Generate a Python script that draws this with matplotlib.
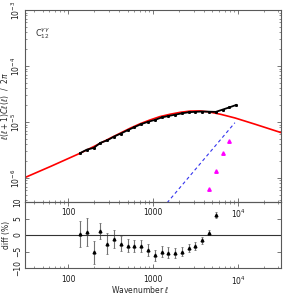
import numpy as np
import matplotlib
matplotlib.use('Agg')
import matplotlib.pyplot as plt
from matplotlib.ticker import FixedLocator, FixedFormatter

# model curve (red)
ell_model = [31.2, 63, 138, 200, 312, 536, 708, 923, 1202, 1585, 2089, 2723,
             3573, 4560, 6310, 9230, 15850, 33000]
cl_model = [1.02e-6, 1.62e-6, 2.76e-6, 3.63e-6, 5.12e-6, 7.72e-6, 9.33e-6,
            1.087e-5, 1.245e-5, 1.373e-5, 1.486e-5, 1.563e-5, 1.574e-5,
            1.514e-5, 1.365e-5, 1.178e-5, 9.12e-6, 6.37e-6]

# measured bins (black)
ell_bins = [138, 166, 200, 240, 289, 348, 417, 501, 603, 724, 871, 1047,
            1259, 1514, 1820, 2188, 2624, 3155, 3793, 4560, 5470, 6580, 7900, 9500]
cl_bins = [2.77e-6, 3.20e-6, 3.44e-6, 4.24e-6, 4.70e-6, 5.49e-6, 6.21e-6,
           7.11e-6, 8.08e-6, 9.16e-6, 1.005e-5, 1.087e-5, 1.202e-5, 1.278e-5,
           1.350e-5, 1.425e-5, 1.492e-5, 1.517e-5, 1.535e-5, 1.525e-5,
           1.513e-5, 1.66e-5, 1.82e-5, 2.01e-5]

# noise (blue dashed) and magenta points
ell_noise = [1460, 9200]
cl_noise = [3.58e-7, 9.7e-6]
ell_tri = [4560, 5470, 6580, 7900]
cl_tri = [6.4e-7, 1.33e-6, 2.76e-6, 4.6e-6]

# diff panel
diff = [0.3, 1.0, -5.2, 1.2, -2.6, -1.2, -2.6, -3.2, -3.4, -3.2, -4.5, -6.2,
        -5.0, -5.3, -5.5, -5.0, -3.9, -3.4, -1.6, 0.7, 6.1]
diff_err = [3.9, 4.3, 3.5, 2.5, 3.3, 2.6, 2.3, 2.0, 1.8, 1.8, 1.9, 1.8,
            1.7, 1.6, 1.5, 1.3, 1.2, 1.2, 1.0, 0.8, 1.0]

xticks = [100, 1000, 10000]
xticklabels = ['100', '1000', r'10$^4$']

fs = 5.5
plt.rcParams['font.family'] = ['DejaVu Sans']
plt.rcParams['mathtext.fontset'] = 'dejavusans'

fig = plt.figure(figsize=(2.84, 2.95), dpi=100)
ax1 = fig.add_axes([0.088, 0.315, 0.901, 0.651])
ax2 = fig.add_axes([0.088, 0.0915, 0.901, 0.2235])
ax2.patch.set_visible(False)

ax1.plot(ell_model, cl_model, color='red', lw=1.2, zorder=2)
ax1.plot(ell_bins, cl_bins, color='black', lw=1.3, marker='s', ms=1.1, zorder=3)
ax1.plot(ell_noise, cl_noise, color='#3333ee', lw=0.8, dashes=(3, 2.5))
ax1.plot(ell_tri, cl_tri, ls='none', marker='^', ms=2.5, color='magenta')
ax1.set_xscale('log')
ax1.set_yscale('log')
ax1.set_xlim(31, 32000)
ax1.set_ylim(3.7e-7, 1e-3)
ax1.text(0.04, 0.86, r'C$_{12}^{\gamma\gamma}$', transform=ax1.transAxes,
         fontsize=fs + 0.5, color='0.2')
ax1.set_ylabel(r'$\ell(\ell+1)C\ell(\ell)\ \ /\ \ 2\pi$', fontsize=fs,
               va='center', color='0.15')
ax1.yaxis.set_label_coords(-0.079, 0.5)

n = len(diff)
ax2.errorbar(ell_bins[:n], diff, yerr=diff_err, fmt='^', ms=2, color='black',
             ecolor='0.45', elinewidth=0.8, capsize=1, capthick=0.6)
ax2.axhline(0, color='0.2', lw=0.8)
ax2.set_xscale('log')
ax2.set_xlim(31, 32000)
ax2.set_ylim(-10, 10)
ax2.set_yticks([-10, -5, 0, 5, 10])
ax2.set_ylabel('diff (%)', fontsize=fs, va='center', color='0.15')
ax2.yaxis.set_label_coords(-0.071, 0.5)
fig.text(0.493, 0.017, r'Wavenumber $\ell$', fontsize=fs, ha='center',
         va='center', color='0.15')

for ax in (ax1, ax2):
    ax.xaxis.set_major_locator(FixedLocator(xticks))
    ax.xaxis.set_major_formatter(FixedFormatter(xticklabels))
    ax.tick_params(which='both', direction='in', top=True, right=True,
                   labelsize=fs, colors='0.25', labelcolor='0.1', pad=2)
    ax.tick_params(which='major', length=3, width=0.5)
    ax.tick_params(which='minor', length=1.5, width=0.4)
    for lab in ax.get_yticklabels():
        lab.set_rotation(90)
        lab.set_va('center')
    for s in ax.spines.values():
        s.set_color('0.35')
        s.set_linewidth(0.8)
ax1.tick_params(axis='x', pad=4)
ax2.tick_params(axis='x', pad=5)

fig.savefig('out.png', dpi=100)
